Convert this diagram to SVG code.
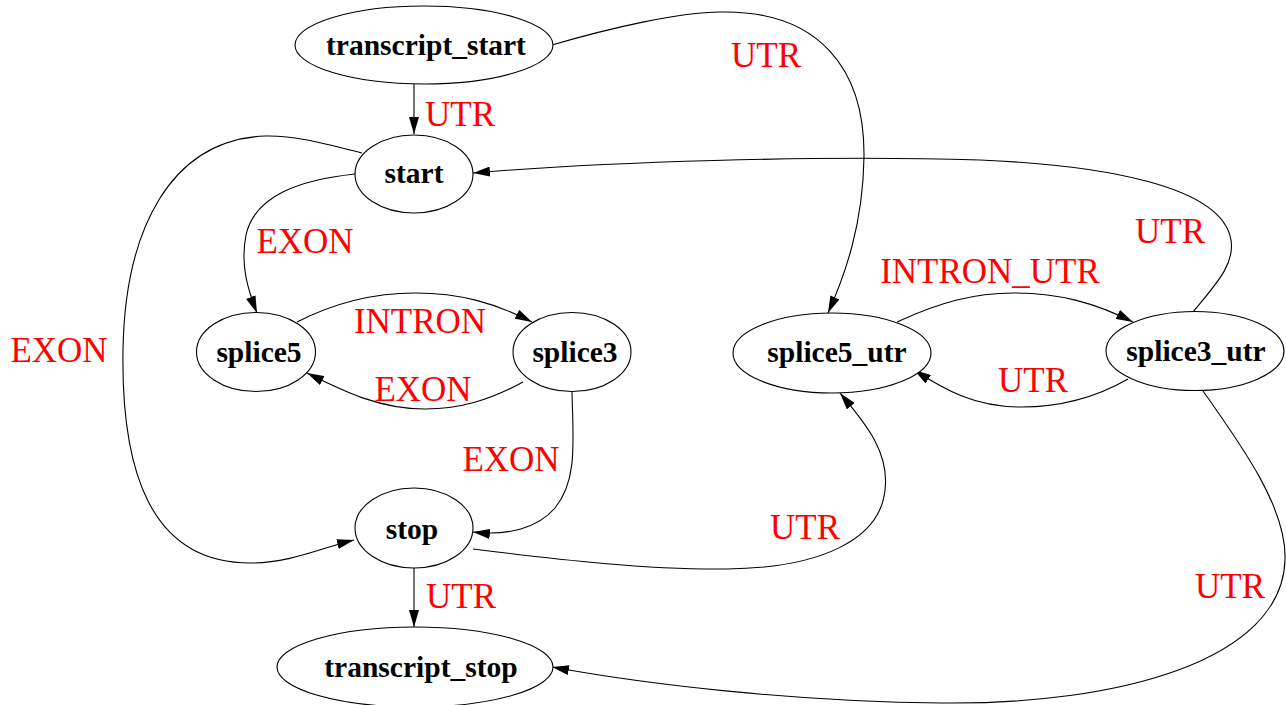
<svg xmlns="http://www.w3.org/2000/svg" width="1286" height="705" viewBox="0 0 1286 705">
<style>
.node ellipse{fill:#fff;stroke:#000;stroke-width:1.1}
.node text{font-family:"Liberation Serif","Times New Roman",serif;font-weight:bold;font-size:29.5px;fill:#000;text-anchor:middle}
.edges path{fill:none;stroke:#000;stroke-width:1.1}
.lbl{font-family:"Liberation Serif","Times New Roman",serif;font-size:35px;fill:#ff0000;text-anchor:middle}
</style>
<defs>
<marker id="arr" viewBox="0 0 17 10" refX="17" refY="5" markerUnits="userSpaceOnUse" markerWidth="17" markerHeight="10" orient="auto">
<path d="M0,0 L17,5 L0,10 z" fill="#000"/>
</marker>
</defs>
<rect width="1286" height="705" fill="#fff"/>
<g id="connectors" class="edges">
<path d="M552,45 C610,28 680,12 720,12 C820,10 865,70 864,157 C863,225 845,275 828,313" marker-end="url(#arr)"/>
<path d="M414,84 L414,134" marker-end="url(#arr)"/>
<path d="M355,174 C300,180 255,195 246,235 C240,265 248,290 257,313" marker-end="url(#arr)"/>
<path d="M362,153 C330,145 295,135 265,136 C170,140 125,230 123,350 C121,470 150,563 250,563 C290,563 318,549 354,540" marker-end="url(#arr)"/>
<path d="M297,322 C340,300 380,293 415,293 C460,293 495,303 532,322" marker-end="url(#arr)"/>
<path d="M523,382 C490,400 460,409 425,409 C380,409 345,392 307,373" marker-end="url(#arr)"/>
<path d="M572,392 C573,440 578,480 555,508 C538,528 508,536 473,532" marker-end="url(#arr)"/>
<path d="M473,549 C560,560 650,570 727,569 C820,568 880,540 885,490 C890,450 862,420 840,393" marker-end="url(#arr)"/>
<path d="M414,568 L414,627" marker-end="url(#arr)"/>
<path d="M897,322 C940,302 975,293 1013,293 C1060,293 1095,303 1133,322" marker-end="url(#arr)"/>
<path d="M1128,379 C1095,398 1060,407 1021,407 C975,407 945,390 914,370" marker-end="url(#arr)"/>
<path d="M1193,312 C1215,285 1235,265 1231,240 C1222,185 1100,165 980,160 C820,155 600,162 473,173" marker-end="url(#arr)"/>
<path d="M1203,391 C1245,450 1287,510 1285,560 C1282,660 1120,705 941,703 C800,702 650,685 552,667" marker-end="url(#arr)"/>
</g>
<g id="edge-labels">
<text class="lbl" x="766" y="67">UTR</text>
<text class="lbl" x="460" y="126">UTR</text>
<text class="lbl" x="305" y="253">EXON</text>
<text class="lbl" x="59" y="362">EXON</text>
<text class="lbl" x="420" y="333">INTRON</text>
<text class="lbl" x="423" y="401">EXON</text>
<text class="lbl" x="511" y="471">EXON</text>
<text class="lbl" x="805" y="539">UTR</text>
<text class="lbl" x="990" y="283">INTRON_UTR</text>
<text class="lbl" x="1033" y="392">UTR</text>
<text class="lbl" x="1170" y="243">UTR</text>
<text class="lbl" x="1230" y="598">UTR</text>
<text class="lbl" x="461" y="608">UTR</text>
</g>
<g id="transcript_start" class="node"><ellipse cx="424" cy="45" rx="129" ry="39"/><text x="426" y="55">transcript_start</text></g>
<g id="start" class="node"><ellipse cx="414" cy="174" rx="59" ry="39"/><text x="414" y="183">start</text></g>
<g id="splice5" class="node"><ellipse cx="256" cy="352" rx="59.5" ry="39.5"/><text x="259" y="362">splice5</text></g>
<g id="splice3" class="node"><ellipse cx="572" cy="352" rx="59" ry="39.5"/><text x="575" y="362">splice3</text></g>
<g id="splice5_utr" class="node"><ellipse cx="832" cy="353" rx="99" ry="40"/><text x="837" y="362">splice5_utr</text></g>
<g id="splice3_utr" class="node"><ellipse cx="1195" cy="351" rx="89" ry="39.5"/><text x="1196" y="361">splice3_utr</text></g>
<g id="stop" class="node"><ellipse cx="414" cy="528" rx="59" ry="40"/><text x="412" y="539">stop</text></g>
<g id="transcript_stop" class="node"><ellipse cx="415" cy="667" rx="138" ry="40"/><text x="421" y="677">transcript_stop</text></g>
</svg>
